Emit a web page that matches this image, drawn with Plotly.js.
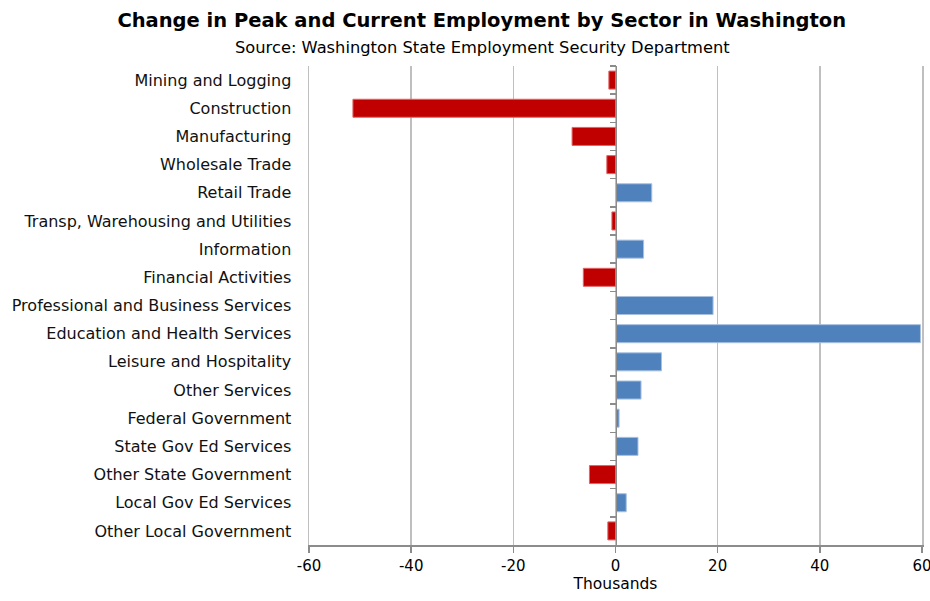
<!DOCTYPE html>
<html>
<head>
<meta charset="utf-8">
<script src="https://cdn.plot.ly/plotly-3.0.1.min.js"></script>
<style>html,body{margin:0;padding:0;background:#fff;}#chart{width:930px;height:601px;}</style>
</head>
<body>
<div id="chart"></div>
<script>
const sectors = [
  "Mining and Logging",
  "Construction",
  "Manufacturing",
  "Wholesale Trade",
  "Retail Trade",
  "Transp, Warehousing and Utilities",
  "Information",
  "Financial Activities",
  "Professional and Business Services",
  "Education and Health Services",
  "Leisure and Hospitality",
  "Other Services",
  "Federal Government",
  "State Gov Ed Services",
  "Other State Government",
  "Local Gov Ed Services",
  "Other Local Government"
];
const changeThousands = [-1.3, -51.4, -8.5, -1.7, 7.1, -0.7, 5.5, -6.3, 19.1, 59.7, 9.0, 5.0, 0.7, 4.4, -5.1, 2.1, -1.5];
const xTicks = [-60, -40, -20, 0, 20, 40, 60];

const fillColors = changeThousands.map(v => v < 0 ? "#C00000" : "#4F81BD");
const lineColors = changeThousands.map(v => v < 0 ? "#E06666" : "#A7C0E0");

const font = "DejaVu Sans, sans-serif";

const traces = [
  {
    type: "bar", orientation: "h",
    x: changeThousands, y: sectors,
    marker: {color: fillColors, line: {color: lineColors, width: 1}},
    xaxis: "x", yaxis: "y",
    hoverinfo: "x+y"
  },
  {
    type: "bar", orientation: "h",
    x: changeThousands, y: sectors,
    marker: {color: "rgba(0,0,0,0)"},
    xaxis: "x", yaxis: "y2",
    hoverinfo: "skip", showlegend: false
  }
];

const plotTop = 66, plotBottom = 545, plotLeft = 309, plotRight = 922;

const layout = {
  width: 930, height: 601,
  margin: {l: plotLeft, r: 930 - plotRight, t: plotTop, b: 601 - plotBottom},
  paper_bgcolor: "#fff", plot_bgcolor: "#fff",
  showlegend: false,
  bargap: 0.36,
  title: {
    text: "<b>Change in Peak and Current Employment by Sector in Washington</b>",
    font: {family: font, size: 19.5, color: "#000"},
    x: 0.518, xanchor: "center", y: 1 - 20 / 601, yanchor: "middle", xref: "container", yref: "container"
  },
  annotations: [{
    text: "Source: Washington State Employment Security Department",
    xref: "paper", yref: "paper",
    x: (482 - plotLeft) / (plotRight - plotLeft), y: (plotBottom - 47) / (plotBottom - plotTop),
    xanchor: "center", yanchor: "middle", showarrow: false,
    font: {family: font, size: 16.3, color: "#000"}
  }],
  xaxis: {
    range: [-60, 60],
    tickvals: xTicks, ticktext: xTicks.map(String),
    showgrid: true, gridcolor: "#BFBFBF", gridwidth: 1.5,
    zeroline: false,
    showline: true, linecolor: "#8C8C8C", linewidth: 1.5,
    ticks: "outside", ticklen: 6, tickcolor: "#8C8C8C", tickwidth: 1.5,
    tickfont: {family: font, size: 15, color: "#000"},
    ticklabeloverflow: "allow",
    title: {text: "Thousands", font: {family: font, size: 15.5, color: "#000"}, standoff: 4},
    fixedrange: true
  },
  yaxis: {
    type: "category",
    categoryorder: "array", categoryarray: sectors,
    autorange: "reversed",
    showgrid: false, zeroline: false,
    showline: true, mirror: true, linecolor: "#BFBFBF", linewidth: 1.5,
    ticks: "", ticklabelstandoff: 13,
    tickfont: {family: font, size: 16, color: "#111"},
    fixedrange: true
  },
  yaxis2: {
    type: "category",
    categoryorder: "array", categoryarray: sectors,
    autorange: "reversed",
    overlaying: "y", anchor: "free", position: 0.5, side: "left",
    showgrid: false, zeroline: false, showticklabels: false,
    showline: true, linecolor: "#8C8C8C", linewidth: 1.5,
    ticks: "outside", ticklen: 6, tickcolor: "#8C8C8C", tickwidth: 1.5,
    tickson: "boundaries",
    fixedrange: true
  }
};

Plotly.newPlot("chart", traces, layout, {displayModeBar: false, staticPlot: true});
</script>
</body>
</html>
